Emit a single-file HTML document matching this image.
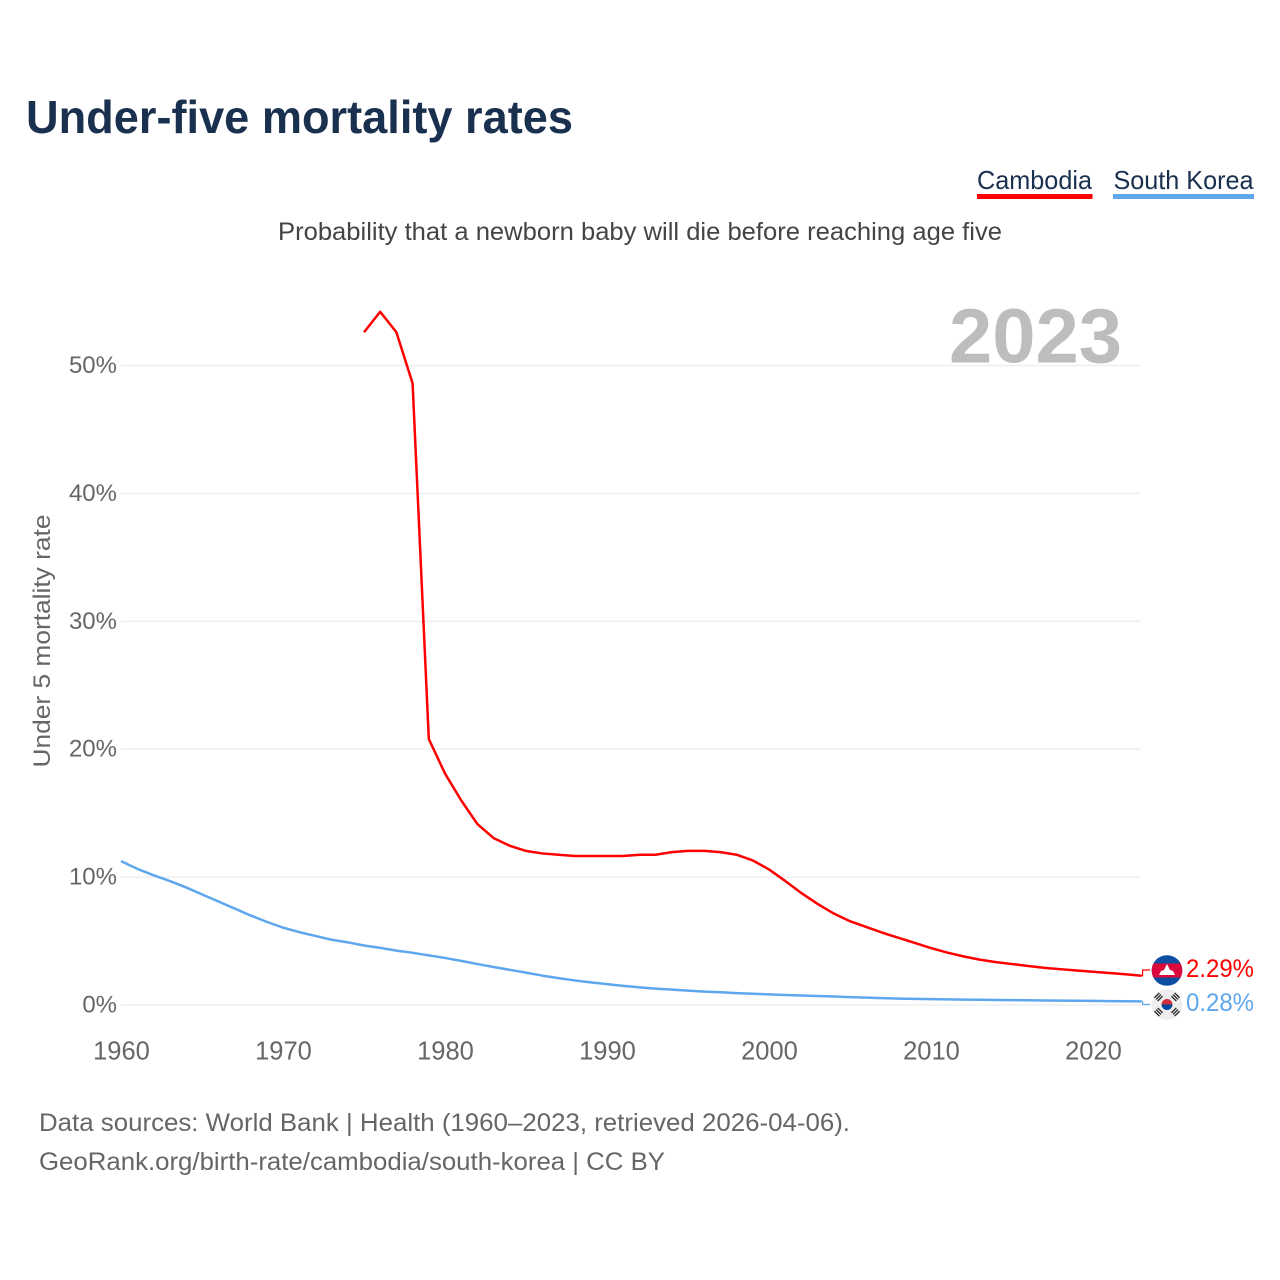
<!DOCTYPE html>
<html lang="en">
<head>
<meta charset="utf-8">
<title>Under-five mortality rates</title>
<style>
html,body{margin:0;padding:0;background:#fff;}
svg{display:block;}
text{font-family:"Liberation Sans",sans-serif;}
</style>
</head>
<body>
<svg id="chart" xmlns="http://www.w3.org/2000/svg" width="1280" height="1280" viewBox="0 0 1280 1280">
  <rect x="0" y="0" width="1280" height="1280" fill="#ffffff"/>
  <text x="26" y="133" font-size="46" font-weight="700" fill="#19304f" textLength="547" lengthAdjust="spacingAndGlyphs">Under-five mortality rates</text>

  <g>
    <text x="977" y="189" font-size="26" fill="#19304f" textLength="115" lengthAdjust="spacingAndGlyphs">Cambodia</text>
    <rect x="977" y="194" width="115.500" height="5" fill="#ff0000"/>
  </g>
  <g>
    <text x="1113.500" y="189" font-size="26" fill="#19304f" textLength="140" lengthAdjust="spacingAndGlyphs">South Korea</text>
    <rect x="1113" y="194" width="141" height="5" fill="#5ea7ee"/>
  </g>

  <text x="278" y="240" font-size="25" fill="#444444" textLength="724" lengthAdjust="spacingAndGlyphs">Probability that a newborn baby will die before reaching age five</text>

  <g id="grid"></g>
  <text x="949" y="362.500" font-size="77" font-weight="700" fill="#bdbdbd" textLength="173" lengthAdjust="spacingAndGlyphs">2023</text>
  <g id="yTicks"></g>
  <g id="xTicks"></g>
  <text transform="translate(50,641) rotate(-90)" text-anchor="middle" font-size="24" fill="#666666" textLength="253" lengthAdjust="spacingAndGlyphs">Under 5 mortality rate</text>

  <g id="series"></g>

  <g>
    <clipPath id="clipKh"><circle cx="1167" cy="970.500" r="15.300"/></clipPath>
    <g clip-path="url(#clipKh)">
      <rect x="1151" y="955" width="32" height="32" fill="#0b4ea2"/>
      <rect x="1151" y="963.500" width="32" height="14" fill="#dc0a3c"/>
      <polygon points="1159,975 1161,971 1164,970 1167,964 1170,970 1173,971 1175,975" fill="#ffffff"/>
    </g>
  </g>
  <g>
    <circle cx="1167" cy="1004.500" r="15.300" fill="#eeeeee"/>
    <path d="M1161.500 1004.500a5.500 5.500 0 0 1 11 0z" fill="#cd2e3a"/>
    <path d="M1161.500 1004.500a5.500 5.500 0 0 0 11 0z" fill="#0047a0"/>
    <g stroke="#222222" stroke-width="1.300">
      <g transform="translate(1158.500,997) rotate(-45)"><path d="M-3.500 -2.300H3.500M-3.500 0H3.500M-3.500 2.300H3.500"/></g>
      <g transform="translate(1175.500,997) rotate(45)"><path d="M-3.500 -2.300H3.500M-3.500 0H3.500M-3.500 2.300H3.500"/></g>
      <g transform="translate(1158.500,1012) rotate(45)"><path d="M-3.500 -2.300H3.500M-3.500 0H3.500M-3.500 2.300H3.500"/></g>
      <g transform="translate(1175.500,1012) rotate(-45)"><path d="M-3.500 -2.300H3.500M-3.500 0H3.500M-3.500 2.300H3.500"/></g>
    </g>
  </g>

  <g id="endLabels"></g>

  <text x="39" y="1131" font-size="25" fill="#666666" textLength="811" lengthAdjust="spacingAndGlyphs">Data sources: World Bank | Health (1960–2023, retrieved 2026-04-06).</text>
  <text x="39" y="1170" font-size="25" fill="#666666" textLength="626" lengthAdjust="spacingAndGlyphs">GeoRank.org/birth-rate/cambodia/south-korea | CC BY</text>
</svg>
<script>
const yTickValues = [0, 10, 20, 30, 40, 50];
const yTickLabels = ["0%", "10%", "20%", "30%", "40%", "50%"];
const xTickValues = [1960, 1970, 1980, 1990, 2000, 2010, 2020];
const xTickLabels = ["1960", "1970", "1980", "1990", "2000", "2010", "2020"];
const cambodiaYears = [1975,1976,1977,1978,1979,1980,1981,1982,1983,1984,1985,1986,1987,1988,1989,1990,1991,1992,1993,1994,1995,1996,1997,1998,1999,2000,2001,2002,2003,2004,2005,2006,2007,2008,2009,2010,2011,2012,2013,2014,2015,2016,2017,2018,2019,2020,2021,2022,2023];
const cambodiaValues = [52.6,54.2,52.6,48.6,20.8,18.1,16.0,14.15,13.05,12.45,12.05,11.85,11.75,11.65,11.65,11.65,11.65,11.75,11.75,11.95,12.05,12.05,11.95,11.75,11.3,10.6,9.7,8.75,7.9,7.15,6.55,6.1,5.65,5.25,4.85,4.45,4.1,3.8,3.55,3.35,3.2,3.05,2.9,2.8,2.7,2.6,2.5,2.4,2.29];
const koreaYears = [1960,1961,1962,1963,1964,1965,1966,1967,1968,1969,1970,1971,1972,1973,1974,1975,1976,1977,1978,1979,1980,1981,1982,1983,1984,1985,1986,1987,1988,1989,1990,1991,1992,1993,1994,1995,1996,1997,1998,1999,2000,2001,2002,2003,2004,2005,2006,2007,2008,2009,2010,2011,2012,2013,2014,2015,2016,2017,2018,2019,2020,2021,2022,2023];
const koreaValues = [11.25,10.65,10.15,9.7,9.2,8.65,8.1,7.55,7.0,6.5,6.05,5.7,5.4,5.1,4.9,4.65,4.47,4.25,4.08,3.88,3.68,3.45,3.2,2.97,2.75,2.53,2.3,2.1,1.92,1.77,1.63,1.5,1.38,1.28,1.2,1.12,1.05,1.0,0.93,0.88,0.83,0.78,0.74,0.7,0.66,0.62,0.58,0.54,0.5,0.48,0.46,0.44,0.42,0.41,0.39,0.38,0.37,0.35,0.34,0.33,0.32,0.3,0.29,0.28];

const NS = "http://www.w3.org/2000/svg";
const xScale = function (year) { return 121 + (year - 1960) * 16.2; };
const yScale = function (value) { return 1005 - value * 12.79; };

function make(parent, tag, attrs, text) {
  const el = document.createElementNS(NS, tag);
  Object.keys(attrs).forEach(function (k) { el.setAttribute(k, attrs[k]); });
  if (text !== undefined) { el.textContent = text; }
  parent.appendChild(el);
  return el;
}

const grid = document.getElementById("grid");
const yTicks = document.getElementById("yTicks");
yTickValues.forEach(function (v, i) {
  const line = make(grid, "line", { x1: 121, x2: 1141, y1: yScale(v), y2: yScale(v), stroke: "#ececec", "stroke-width": 1.3 });
  
  
  const label = make(yTicks, "text", { x: 117, y: yScale(v) + 7.5, "text-anchor": "end", "font-size": 24, fill: "#666666" }, yTickLabels[i]);
  
  
});

const xTicks = document.getElementById("xTicks");
xTickValues.forEach(function (v, i) {
  const label = make(xTicks, "text", { x: xScale(v) + 0.5, y: 1059.5, "text-anchor": "middle", "font-size": 25.5, fill: "#666666" }, xTickLabels[i]);
  
  
});

function pathFor(years, values) {
  return values.map(function (v, i) {
    return (i ? "L" : "M") + xScale(years[i]).toFixed(2) + " " + yScale(v).toFixed(2);
  }).join(" ");
}

const series = document.getElementById("series");
const koreaLine = make(series, "path", { d: pathFor(koreaYears, koreaValues), fill: "none", stroke: "#5ea7ee", "stroke-width": 2.5, "stroke-linejoin": "round" });


const cambodiaLine = make(series, "path", { d: pathFor(cambodiaYears, cambodiaValues), fill: "none", stroke: "#ff0000", "stroke-width": 2.5, "stroke-linejoin": "round" });



const endLabels = document.getElementById("endLabels");
const lastCambodia = cambodiaValues[cambodiaValues.length - 1];
const lastKorea = koreaValues[koreaValues.length - 1];
const xEnd = xScale(2023);
const connRed = make(endLabels, "path", { d: "M" + xEnd + " " + yScale(lastCambodia) + " H" + (xEnd + 1) + " V970 H1150", fill: "none", stroke: "#ff0000", "stroke-width": 1.2 });


const connBlue = make(endLabels, "path", { d: "M" + xEnd + " " + yScale(lastKorea) + " H" + (xEnd + 1) + " V1004.5 H1150", fill: "none", stroke: "#5ea7ee", "stroke-width": 1.2 });


const valRed = make(endLabels, "text", { x: 1186, y: 977, "font-size": 25, fill: "#ff0000", textLength: 68, lengthAdjust: "spacingAndGlyphs" }, lastCambodia.toFixed(2) + "%");


const valBlue = make(endLabels, "text", { x: 1186, y: 1011, "font-size": 25, fill: "#5ea7ee", textLength: 68, lengthAdjust: "spacingAndGlyphs" }, lastKorea.toFixed(2) + "%");


</script>
</body>
</html>
